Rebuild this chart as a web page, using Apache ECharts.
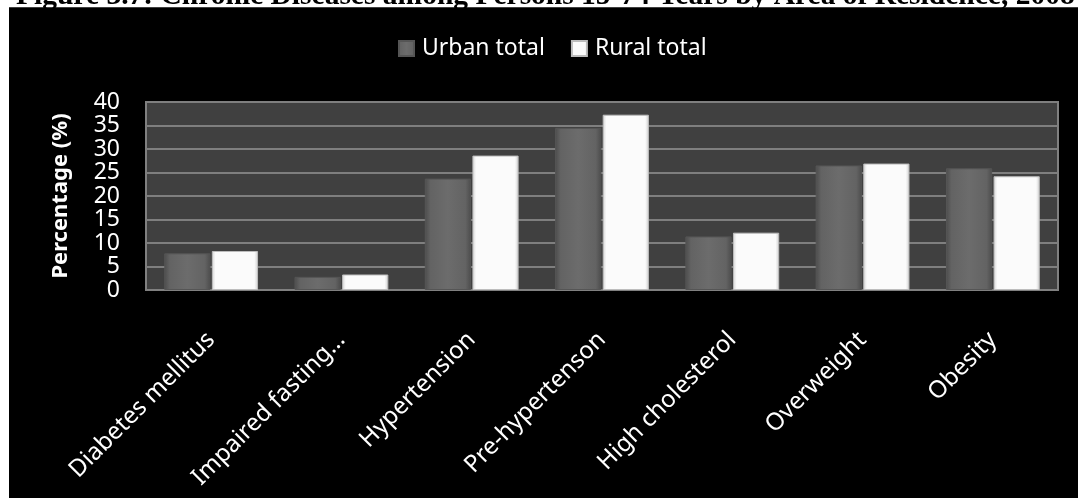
<!DOCTYPE html>
<html>
<head>
<meta charset="utf-8">
<script src="https://cdn.jsdelivr.net/npm/echarts@6/dist/echarts.min.js"></script>
<style>
  html, body { margin: 0; padding: 0; background: #ffffff; }
  #chart { width: 1078px; height: 498px; }
</style>
</head>
<body>
<div id="chart"></div>
<script>
// Chronic diseases among persons 15-74 years, by area of residence (percent)
const categories = [
  'Diabetes mellitus',
  'Impaired fasting…',
  'Hypertension',
  'Pre-hypertenson',
  'High cholesterol',
  'Overweight',
  'Obesity'
];
const urbanTotal = [7.8, 2.8, 23.7, 34.5, 11.4, 26.5, 25.9];
const ruralTotal = [8.3, 3.3, 28.6, 37.3, 12.2, 26.9, 24.2];
const seriesNames = ['Urban total', 'Rural total'];
const titleText = 'Figure 3.7: Chronic Diseases among Persons 15-74 Years by Area of Residence, 2008';

const font = '"Noto Sans", "Open Sans", sans-serif';

const urbanFill = new echarts.graphic.LinearGradient(0, 0, 1, 0, [
  { offset: 0, color: '#4c4c4c' },
  { offset: 0.12, color: '#636363' },
  { offset: 0.5, color: '#6c6c6c' },
  { offset: 0.88, color: '#636363' },
  { offset: 1, color: '#4c4c4c' }
]);
const ruralFill = new echarts.graphic.LinearGradient(0, 0, 1, 0, [
  { offset: 0, color: '#d4d4d4' },
  { offset: 0.08, color: '#fbfbfb' },
  { offset: 0.92, color: '#fbfbfb' },
  { offset: 1, color: '#cfcfcf' }
]);

const chart = echarts.init(document.getElementById('chart'), null, { renderer: 'canvas' });

chart.setOption({
  // dark chart panel; the page margin above and to the left stays white
  backgroundColor: '#000000',
  animation: false,
  graphic: [
    {
      type: 'rect',
      shape: { x: 0, y: 0, width: 1078, height: 7.5 },
      style: { fill: '#ffffff' }
    },
    {
      type: 'rect',
      shape: { x: 0, y: 0, width: 9, height: 498 },
      style: { fill: '#ffffff' }
    },
    {
      type: 'text',
      left: 16,
      top: -19,
      style: {
        text: titleText,
        font: 'bold 29.5px "Liberation Serif", "Times New Roman", serif',
        fill: '#000000'
      }
    },
    {
      // panel edge re-drawn over the caption so it is clipped at the panel
      type: 'rect',
      shape: { x: 9, y: 7.5, width: 1069, height: 30 },
      style: { fill: '#000000' }
    }
  ],
  legend: {
    data: seriesNames,
    left: 398,
    top: 37,
    padding: 0,
    itemGap: 26,
    itemWidth: 15,
    itemHeight: 15,
    icon: 'rect',
    textStyle: {
      color: '#ffffff',
      fontFamily: font,
      fontSize: 23,
      padding: [0, 0, 0, 3]
    }
  },
  grid: {
    left: 146,
    right: 20,
    top: 102,
    bottom: 208,
    show: true,
    backgroundColor: '#404040',
    borderColor: '#808080',
    borderWidth: 2
  },
  xAxis: {
    type: 'category',
    data: categories,
    axisLine: { show: true, lineStyle: { color: '#808080', width: 2 } },
    axisTick: { show: false },
    axisLabel: {
      interval: 0,
      rotate: 45,
      margin: 46,
      color: '#ffffff',
      fontFamily: font,
      fontSize: 24
    }
  },
  yAxis: {
    type: 'value',
    min: 0,
    max: 40,
    interval: 5,
    name: 'Percentage (%)',
    nameLocation: 'middle',
    nameGap: 74,
    nameTextStyle: {
      color: '#ffffff',
      fontFamily: font,
      fontSize: 22,
      fontWeight: 'bold'
    },
    axisLine: { show: false },
    axisTick: { show: false },
    splitLine: { lineStyle: { color: '#7f7f7f', width: 2 } },
    axisLabel: {
      margin: 26,
      color: '#ffffff',
      fontFamily: font,
      fontSize: 23
    }
  },
  series: [
    {
      name: seriesNames[0],
      type: 'bar',
      data: urbanTotal,
      barGap: '3%',
      barCategoryGap: '28%',
      itemStyle: { color: urbanFill, borderColor: '#555555', borderWidth: 1 }
    },
    {
      name: seriesNames[1],
      type: 'bar',
      data: ruralTotal,
      itemStyle: { color: ruralFill, borderColor: '#bdbdbd', borderWidth: 1 }
    }
  ]
});
</script>
</body>
</html>
